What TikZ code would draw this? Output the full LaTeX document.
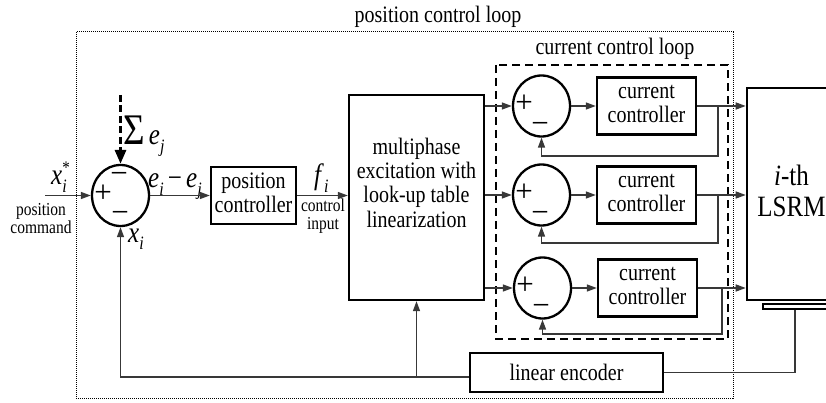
\documentclass[tikz,border=0pt]{standalone}
\usepackage{graphicx}
\usepackage{fontspec}
\setmainfont{Liberation Serif}
\usetikzlibrary{arrows.meta,shapes.geometric,calc}
\newcommand\fsz[2]{\fontsize{#1}{#2}\selectfont}
\newcommand\sbi[1]{\raisebox{-6pt}{\fsz{16}{16}\textit{#1}}}
\newcommand\vt[1]{\scalebox{1}[1.18]{\begin{tabular}{@{}c@{}}#1\end{tabular}}}
\newcommand\vl[1]{\scalebox{1}[1.18]{#1}}
\begin{document}
\begin{tikzpicture}[x=1pt,y=-1pt,
  blk/.style={draw, line width=2.3pt, inner sep=0pt, align=center, font=\fsz{20}{20}},
  sumc/.style={draw, ellipse, line width=2.3pt, minimum width=57pt, minimum height=61pt, inner sep=0pt},
  sgn/.style={inner sep=0pt, font=\fsz{31}{31}},
  conn/.style={line width=1.4pt, draw=black!78},
  arr/.style={conn, -{Triangle[length=10pt,width=7pt]}},
  sigarr/.style={line width=3pt, dash pattern=on 7pt off 3.5pt, -{Triangle[length=14pt,width=11pt]}},
  lbl/.style={inner sep=0pt, font=\fsz{25}{25}},
  small/.style={inner sep=0pt, align=center, font=\fsz{15.5}{14}},
  title/.style={inner sep=0pt, font=\fsz{20}{20}},
]
\useasboundingbox (0,0) rectangle (826,403);

% loops
\draw[line width=1pt, dash pattern=on 1pt off 1pt] (76,32) rectangle (733,398);
\draw[line width=1.6pt, dash pattern=on 8pt off 5pt] (496,65) rectangle (728,339);
\node[title] (tpos) at (438,17) {\vl{position control loop}};
\node[title] (tcur) at (615,49) {\vl{current control loop}};

% blocks
\node[sumc] (s0) at (120.5,195.5) {};
\node[blk, minimum width=85pt, minimum height=57pt] (pc) at (253.5,195.5) {\vt{position\\controller}};
\node[blk, minimum width=135pt, minimum height=205pt] (mp) at (416.5,197.5) {};
\node[inner sep=0pt, font=\fsz{20}{20.5}] (mpt) at (416.5,186) {\vt{multiphase\\excitation with\\look-up table\\linearization}};

\node[sumc] (s1) at (541.5,106) {};
\node[sumc] (s2) at (541.5,195) {};
\node[sumc] (s3) at (542.5,288) {};
\node[blk, minimum width=99pt, minimum height=57pt] (cc1) at (646.5,106) {\vt{current\\controller}};
\node[blk, minimum width=99pt, minimum height=57pt] (cc2) at (646.5,195) {\vt{current\\controller}};
\node[blk, minimum width=99pt, minimum height=57pt] (cc3) at (647.5,288) {\vt{current\\controller}};

\node[draw, line width=2.6pt, minimum width=89pt, minimum height=212pt, inner sep=0pt] (lsrm) at (791.5,194) {};
\node[inner sep=0pt, font=\fsz{25}{26}] (lsrmt) at (791.5,195) {\vt{\textit{i}-th\\LSRM}};
\node[draw, line width=1.3pt, minimum width=87pt, minimum height=5pt, inner sep=0pt] (scale) at (806.5,306.5) {};

\node[blk, minimum width=193pt, minimum height=39pt] (enc) at (566.5,372.5) {\vl{linear encoder}};

% signs
\node[sgn] (p0) at ($(s0)+(-17.5,-1.5)$) {+};
\node[sgn] (m0a) at ($(s0)+(-1.5,-17.5)$) {−};
\node[sgn] (m0b) at ($(s0)+(-0.5,21)$) {−};
\foreach \k in {1,2,3}{
  \node[sgn] (p\k) at ($(s\k)+(-17.5,-2)$) {+};
  \node[sgn] (m\k) at ($(s\k)+(-1.5,21.5)$) {−};
}

% labels
\node[lbl, anchor=base west] (xstar) at (51,185) {\vl{\textit{x}\rlap{\sbi{i}}\raisebox{9.5pt}{\fsz{15}{15}*}}};
\node[small] (pcmd) at (41,221) {\vt{position\\command}};
\node[lbl, anchor=base west] (xi) at (128,242) {\vl{\textit{x}\sbi{i}}};
\node[lbl, anchor=base west] (eij) at (148,188) {\vl{\textit{e}\sbi{i}\,−\,\textit{e}\sbi{j}}};
\node[lbl, anchor=base west] (sig) at (123,145) {\vl{{\fsz{37}{37}Σ}\,\textit{e}\sbi{j}}};
\node[lbl, anchor=base west] (fi) at (314,185) {\vl{\textit{f}\sbi{i}}};
\node[small, font=\fsz{15.5}{15.3}] (cin) at (323,217) {\vt{control\\input}};

% coordinates
\coordinate (xin) at (45,195.5);
\coordinate (sigtop) at (120.5,95);
\coordinate (fb) at (120.5,377);
\coordinate (b1) at (718,106);
\coordinate (b2) at (718,195);
\coordinate (b3) at (722,288);
\coordinate (ep) at (795,372.5);

% connectors
\draw[arr] (xin) -- (s0.west);
\draw[sigarr] (sigtop) -- (s0.north);
\draw[arr] (s0.east) -- (pc.west);
\draw[arr] (pc.east) -- (pc.east -| mp.west);
\draw[arr] (mp.east |- s1.west) -- (s1.west);
\draw[arr] (mp.east |- s2.west) -- (s2.west);
\draw[arr] (mp.east |- s3.west) -- (s3.west);
\draw[arr] (s1.east) -- (cc1.west);
\draw[arr] (s2.east) -- (cc2.west);
\draw[arr] (s3.east) -- (cc3.west);
\draw[arr] (cc1.east) -- (cc1.east -| lsrm.west);
\draw[arr] (cc2.east) -- (cc2.east -| lsrm.west);
\draw[arr] (cc3.east) -- (cc3.east -| lsrm.west);
\draw[arr] (b1) -- ++(0,50) -| (s1.south);
\draw[arr] (b2) -- ++(0,48) -| (s2.south);
\draw[arr] (b3) -- ++(0,46) -| (s3.south);
\draw[arr] (enc.west |- fb) -- (fb) -- (s0.south);
\draw[arr] (mp.south |- fb) -- (mp.south);
\draw[conn] (enc.east) -- (ep) -- (ep |- scale.south);
\end{tikzpicture}
\end{document}
